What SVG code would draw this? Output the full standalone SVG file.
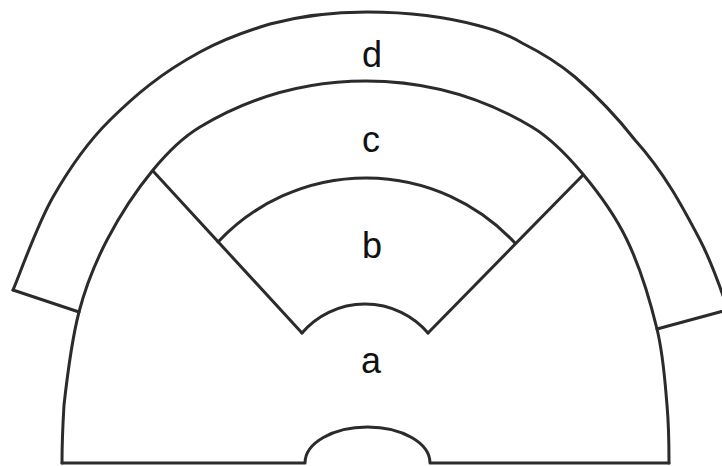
<svg xmlns="http://www.w3.org/2000/svg" width="722" height="466" viewBox="0 0 722 466">
<style>
.ln{fill:none;stroke:#2b2b2b;stroke-width:3;stroke-linecap:round;stroke-linejoin:round}
.lb{font-family:"Liberation Sans",Arial,sans-serif;font-size:36px;fill:#111;text-anchor:middle}
</style>
<rect width="722" height="466" fill="#ffffff"/>
<g id="band-d">
<path class="ln" d="M13,290 C19.67,274.5 36.83,225.33 53,197 C69.17,168.67 85.5,144.17 110,120 C134.5,95.83 160,73.7 200,52 C220,41 250,30 270,24 C300,16 335,12 367,12 C400,12 440,15 480,26 C500,31 512,37 522,43 C540,52 562,66 575,77 C590,90 610,108 635,140 C664.67,172.83 683.33,208.33 700,240 C716.67,271.67 729.17,315 735,330"/>
<path class="ln" d="M13,290 L79,312"/>
<path class="ln" d="M657,329 L742,306"/>
</g>
<g id="outer-arc">
<path class="ln" d="M62,463 C62,448 62.5,430 64,405 C66.83,379.83 71.83,339.5 79,312 C86.17,284.5 94.67,263.67 107,240 C119.33,216.33 137.5,188.83 153,170 C168.5,151.17 182,137.8 200,127 A322.5,322.5 0 0 1 532,127 C550,137.8 566.17,154.17 582,173 C597.83,191.83 614.5,214 627,240 C639.5,266 650.33,301.5 657,329 C663.67,356.5 665,382.67 667,405 C669,427.33 669,448 669,463"/>
</g>
<g id="base">
<path class="ln" d="M62,463 L305,463 A62.5,36 0 0 1 430,463 L669,463"/>
</g>
<g id="band-c">
<path class="ln" d="M153,171 L302,333"/>
<path class="ln" d="M583,175 L428,333"/>
</g>
<g id="arc-b">
<path class="ln" d="M218,242 A203,203 0 0 1 515,243"/>
</g>
<g id="arc-a">
<path class="ln" d="M302,333 A83,83 0 0 1 428,333"/>
</g>
<g id="labels">
<text class="lb" x="372" y="67">d</text>
<text class="lb" x="371" y="152">c</text>
<text class="lb" x="372" y="258">b</text>
<text class="lb" x="371" y="373">a</text>
</g>
</svg>
